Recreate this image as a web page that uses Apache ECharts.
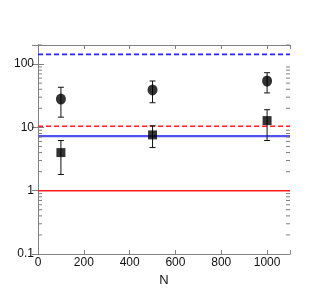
<!DOCTYPE html>
<html><head><meta charset="utf-8">
<script src="https://cdn.jsdelivr.net/npm/echarts@6/dist/echarts.min.js"></script>
<style>html,body{margin:0;padding:0;background:#fff}#c{width:327px;height:300px}</style>
</head><body><div id="c"></div>
<script>
var nValues = [100, 500, 1000];
var circleValues = [28, 39, 54];
var circleLow = [14.5, 24.5, 35];
var circleHigh = [43, 54, 73];
var squareValues = [4.0, 7.6, 12.8];
var squareLow = [1.8, 4.8, 6.2];
var squareHigh = [6.2, 10.6, 19];
var blueDashed = 142;
var redDashed = 10.4;
var blueSolid = 7.3;
var redSolid = 1;
var xTicks = [0, 200, 400, 600, 800, 1000];
var yTickLabels = ['0.1', '1', '10', '100'];
var minorDecades = [0.1, 1, 10, 100];
var minorMultipliers = [2, 3, 4, 5, 6, 7, 8, 9];

var font = 'Liberation Sans, Arial, sans-serif';
var axisColor = '#808080';

function errData(lo, hi) {
  return nValues.map(function (n, i) { return [n, lo[i], hi[i]]; });
}
function errRender(params, api) {
  var x = api.value(0);
  var p1 = api.coord([x, api.value(1)]);
  var p2 = api.coord([x, api.value(2)]);
  var w = 3;
  var st = { stroke: '#111', lineWidth: 1 };
  return { type: 'group', children: [
    { type: 'line', shape: { x1: p1[0], y1: p1[1], x2: p2[0], y2: p2[1] }, style: st },
    { type: 'line', shape: { x1: p1[0] - w, y1: p1[1], x2: p1[0] + w, y2: p1[1] }, style: st },
    { type: 'line', shape: { x1: p2[0] - w, y1: p2[1], x2: p2[0] + w, y2: p2[1] }, style: st }
  ]};
}
var minorData = [];
minorDecades.forEach(function (d) {
  minorMultipliers.forEach(function (m) {
    var v = d * m;
    if (v <= 200) minorData.push([0, v]);
  });
});
function minorRender(params, api) {
  var pl = api.coord([0, api.value(1)]);
  var pr = api.coord([1100, api.value(1)]);
  var st = { stroke: axisColor, lineWidth: 1 };
  return { type: 'group', children: [
    { type: 'line', shape: { x1: pl[0], y1: pl[1], x2: pl[0] + 4, y2: pl[1] }, style: st },
    { type: 'line', shape: { x1: pr[0] - 4, y1: pr[1], x2: pr[0], y2: pr[1] }, style: st }
  ]};
}
function hLine(val, color, type, w) {
  return { type: 'line', data: [[0, val], [1100, val]], symbol: 'none', silent: true,
    lineStyle: { color: color, width: w, type: type === 'dashed' ? [5, 3] : 'solid' }, z: 1 };
}

var chart = echarts.init(document.getElementById('c'));
chart.setOption({
  animation: false,
  grid: { left: 38, right: 37, top: 45, bottom: 46, containLabel: false, outerBoundsMode: 'none' },
  xAxis: [{
    type: 'value', min: 0, max: 1100, interval: 200, position: 'bottom',
    name: 'N', nameLocation: 'middle', nameGap: 17,
    nameTextStyle: { color: '#111', fontSize: 13, fontFamily: font },
    axisLine: { show: true, lineStyle: { color: axisColor, width: 1 } },
    axisTick: { inside: true, length: 4, lineStyle: { color: axisColor } },
    axisLabel: { color: '#111', fontSize: 12, fontFamily: font, margin: 3,
      formatter: function (v) { return xTicks.indexOf(v) >= 0 ? String(v) : ''; } },
    splitLine: { show: false }
  }, {
    type: 'value', min: 0, max: 1100, interval: 200, position: 'top',
    axisLine: { show: true, lineStyle: { color: axisColor, width: 1 } },
    axisTick: { inside: true, length: 4, lineStyle: { color: axisColor } },
    axisLabel: { show: false }, splitLine: { show: false }
  }],
  yAxis: [{
    type: 'log', logBase: 10, min: 0.1, max: 200, position: 'left',
    name: 'FoM', nameLocation: 'middle', nameGap: 24, nameRotate: 90,
    nameTextStyle: { color: '#111', fontSize: 13, fontFamily: font },
    axisLine: { show: true, lineStyle: { color: axisColor, width: 1 } },
    axisTick: { inside: true, length: 6, lineStyle: { color: axisColor } },
    axisLabel: { color: '#111', fontSize: 12, fontFamily: font, margin: 4,
      formatter: function (v) {
        var s = String(Math.round(v * 10) / 10);
        return yTickLabels.indexOf(s) >= 0 ? s : '';
      } },
    splitLine: { show: false }
  }, {
    type: 'log', logBase: 10, min: 0.1, max: 200, position: 'right',
    axisLine: { show: true, lineStyle: { color: axisColor, width: 1 } },
    axisTick: { inside: true, length: 6, lineStyle: { color: axisColor } },
    axisLabel: { show: false }, splitLine: { show: false }
  }],
  series: [
    hLine(blueDashed, '#2424ff', 'dashed', 1.6),
    hLine(redDashed, '#ff2020', 'dashed', 1.6),
    hLine(blueSolid, '#5252ee', 'solid', 2.2),
    hLine(redSolid, '#ff1a1a', 'solid', 1.6),
    { type: 'custom', renderItem: minorRender, data: minorData, silent: true, z: 3 },
    { type: 'custom', renderItem: errRender, data: errData(circleLow, circleHigh), z: 4 },
    { type: 'custom', renderItem: errRender, data: errData(squareLow, squareHigh), z: 4 },
    { type: 'scatter', symbol: 'circle', symbolSize: [10, 11], z: 5,
      itemStyle: { color: '#000' },
      data: nValues.map(function (n, i) { return [n, circleValues[i]]; }) },
    { type: 'scatter', symbol: 'rect', symbolSize: 9, z: 5,
      itemStyle: { color: '#000' },
      data: nValues.map(function (n, i) { return [n, squareValues[i]]; }) }
  ]
});
</script></body></html>
